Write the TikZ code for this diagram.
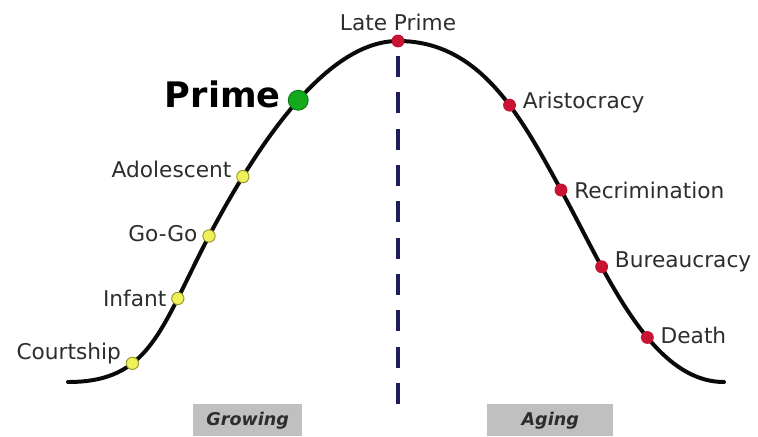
\documentclass[tikz,border=0pt]{standalone}
\usepackage{fontspec}
\setmainfont{DejaVu Sans}
\usetikzlibrary{positioning}
\definecolor{curveblack}{RGB}{10,10,10}
\definecolor{growdot}{RGB}{240,240,90}
\definecolor{growedge}{RGB}{150,150,40}
\definecolor{agedot}{RGB}{200,20,50}
\definecolor{primedot}{RGB}{20,170,30}
\definecolor{dividerblue}{RGB}{30,30,90}
\definecolor{phasegray}{RGB}{192,192,192}
\definecolor{labelgray}{RGB}{45,45,45}

\begin{document}
\begin{tikzpicture}[
  x={(0.03cm,0)}, y={(0,-0.03cm)},
  node distance=2pt and 3pt,
  ydot/.style={circle, fill=growdot, draw=growedge, line width=0.8pt,
               minimum size=10.5pt, inner sep=0pt},
  rdot/.style={circle, fill=agedot, minimum size=11pt, inner sep=0pt},
  gdot/.style={circle, fill=primedot, draw=primedot!70!black, line width=0.8pt,
               minimum size=17pt, inner sep=0pt},
  lbl/.style={font=\fontsize{18.5}{20}\selectfont, text=labelgray, inner sep=1pt},
  phase/.style={rectangle, fill=phasegray, inner sep=0pt,
                font=\fontsize{15}{17}\selectfont\bfseries\itshape, text=labelgray},
  lifecurve/.style={line width=3.4pt, curveblack, line cap=round}
]
\useasboundingbox (0,0) rectangle (758,436);

\coordinate (begin)  at (68,382);
\coordinate (kgrow)  at (209,236);
\coordinate (kpeak)  at (398,41);
\coordinate (kage)   at (561,190);
\coordinate (finish) at (724,382);

% divider between the two halves
\coordinate (divtop) at (398,56);
\coordinate (divbot) at (398,416);
\draw[dividerblue, line width=3.2pt, dash pattern=on 18pt off 13pt] (divtop) -- (divbot);

% life cycle curve with its stages
\draw[lifecurve]
  (begin) .. controls (150,382) and (160,330) .. (kgrow)
    node[ydot, pos=0.35] (court)  {}
    node[ydot, pos=0.75] (infant) {}
    node[ydot, pos=1]    (gogo)   {}
  .. controls (263,134) and (330,41) .. (kpeak)
    node[ydot, pos=0.2]  (adol)   {}
    node[gdot, pos=0.5]  (prime)  {}
    node[rdot, pos=1]    (late)   {}
  .. controls (480,41) and (520,115) .. (kage)
    node[rdot, pos=0.6]  (aristo) {}
    node[rdot, pos=1]    (recrim) {}
  .. controls (605,270) and (650,382) .. (finish)
    node[rdot, pos=0.3]  (bureau) {}
    node[rdot, pos=0.6]  (death)  {};

\node[lbl, left=of court, yshift=8pt]   {Courtship};
\node[lbl, left=of infant]              {Infant};
\node[lbl, left=of gogo, yshift=2pt]    {Go-Go};
\node[lbl, left=of adol, yshift=6pt]    {Adolescent};
\node[lbl, left=5pt of prime, yshift=5pt, font=\fontsize{30}{32}\selectfont\bfseries,
      text=black] {Prime};
\node[lbl, above=of late, yshift=-2pt]  {Late Prime};
\node[lbl, right=of aristo, yshift=2pt] {Aristocracy};
\node[lbl, right=of recrim]             {Recrimination};
\node[lbl, right=of bureau, yshift=4pt] {Bureaucracy};
\node[lbl, right=of death, yshift=2pt]  {Death};

% phases
\node[phase, minimum width=109*0.03cm, minimum height=32*0.03cm, anchor=north west]
  (grow) at (193,404) {Growing};
\node[phase, minimum width=126*0.03cm, minimum height=32*0.03cm, anchor=north west]
  (age) at (487,404) {Aging};
\end{tikzpicture}
\end{document}
